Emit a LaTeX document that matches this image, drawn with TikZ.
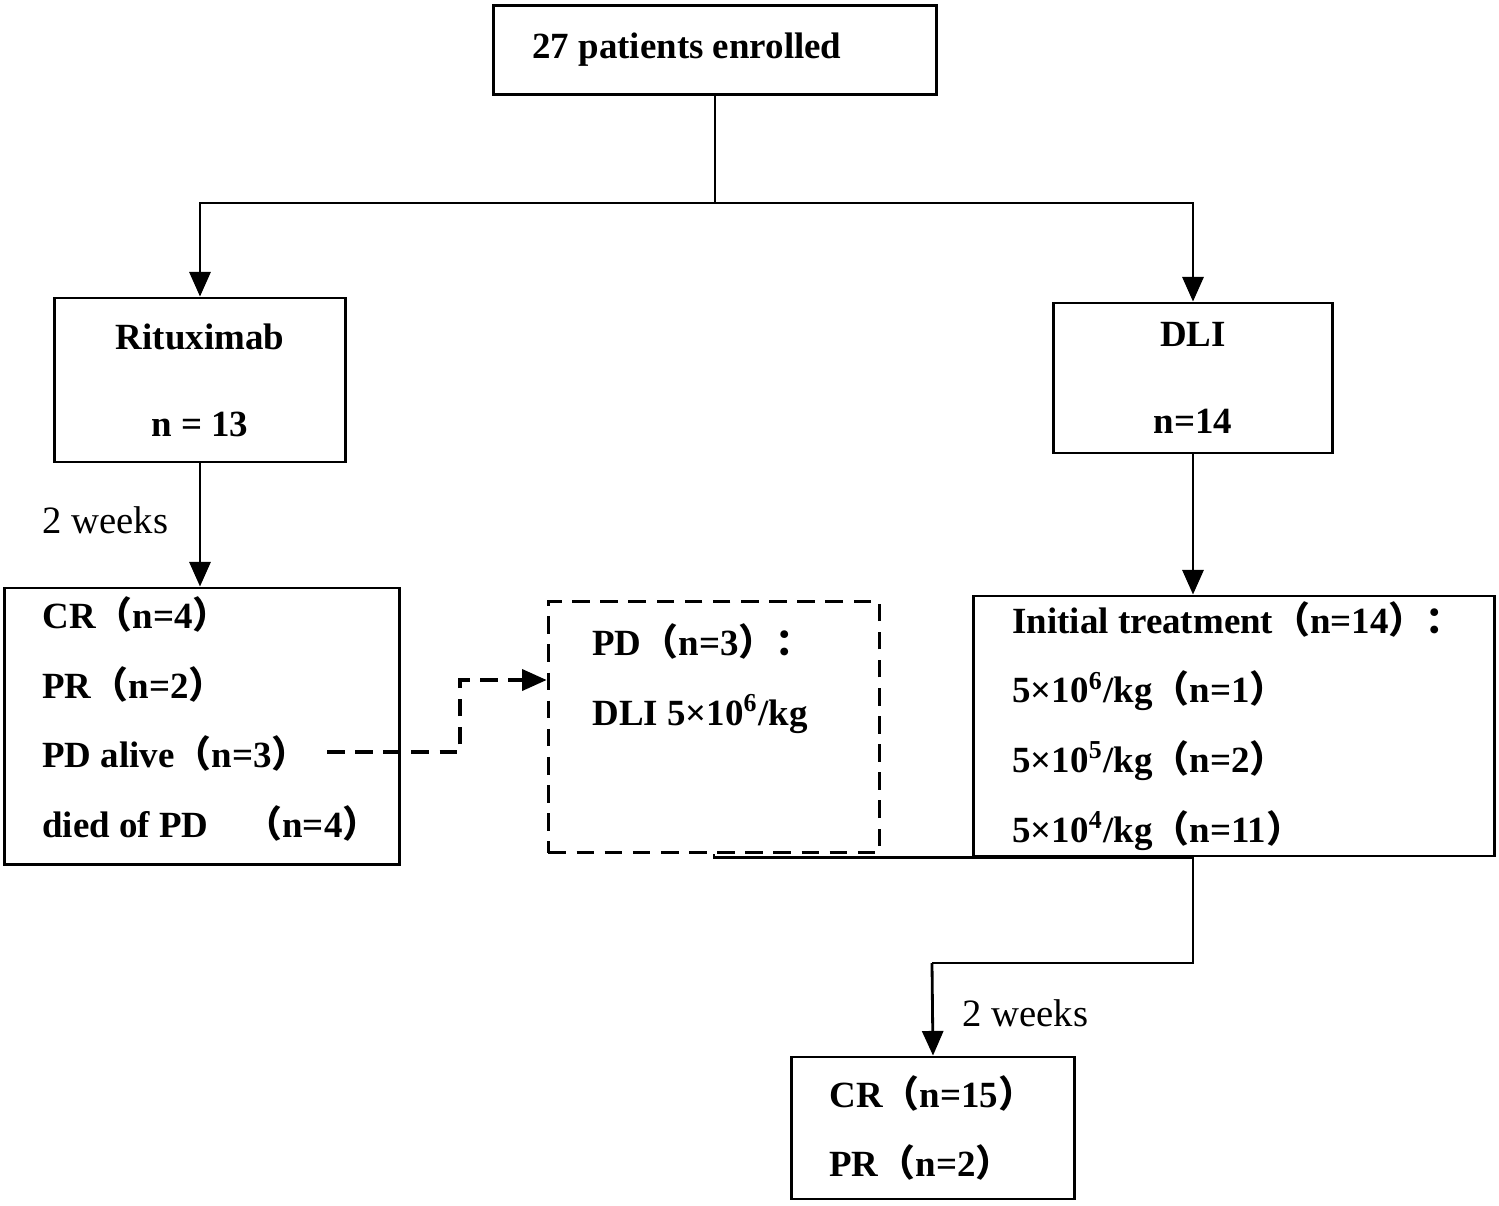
\documentclass[tikz,border=0pt]{standalone}
\usepackage{fontspec}
\setmainfont{Liberation Serif}
\newfontfamily\cjk{Noto Sans CJK SC}
\usetikzlibrary{arrows.meta,positioning,calc}
\newcommand{\lp}{{\cjk （}}
\newcommand{\rp}{{\cjk ）}}
\newcommand{\cl}{{\cjk ：}}
\begin{document}
\begin{tikzpicture}[x=0.01cm,y=-0.01cm,
  every node/.style={font=\bfseries\fontsize{10.5}{17}\selectfont},
  bx/.style={draw,line width=0.8pt,inner sep=0pt},
  tx/.style={align=left,anchor=west},
  e/.style={-{Triangle[length=7pt,width=6pt]},line width=0.8pt},
  l/.style={line width=0.8pt},
  dl/.style={dashed,line width=1pt,dash pattern=on 5pt off 3pt},
  wk/.style={font=\fontsize{11}{13}\selectfont}
  ]
  \useasboundingbox (0,0) rectangle (1499,1205);
  % boxes
  \node (top) [bx,minimum width=4.42cm,minimum height=0.89cm] at (715,50) {};
  \node [anchor=west] at (520,50) {27 patients enrolled};
  \node (rit) [bx,minimum width=2.91cm,minimum height=1.64cm,align=center] at (200,380) {Rituximab\\[0.27cm]n = 13};
  \node (dli) [bx,minimum width=2.79cm,minimum height=1.5cm,align=center] at (1193,378) {DLI\\[0.27cm]n=14};
  \node (res) [bx,minimum width=3.94cm,minimum height=2.76cm] at (202,726) {};
  \node [tx] at (30,719) {CR\lp n=4\rp\\[0.1cm] PR\lp n=2\rp\\[0.1cm] PD alive\lp n=3\rp\\[0.1cm] died of PD\quad\lp n=4\rp};
  \node (pd) [bx,dl,minimum width=3.31cm,minimum height=2.51cm] at (714,727) {};
  \node [tx] at (580,679) {PD\lp n=3\rp\cl\\[0.1cm] DLI 5×10$^{\mathbf 6}$/kg};
  \node (ini) [bx,minimum width=5.21cm,minimum height=2.6cm] at (1234,726) {};
  \node [tx] at (1000,726) {Initial treatment\lp n=14\rp\cl\\[0.1cm] 5×10$^{\mathbf 6}$/kg\lp n=1\rp\\[0.1cm] 5×10$^{\mathbf 5}$/kg\lp n=2\rp\\[0.1cm] 5×10$^{\mathbf 4}$/kg\lp n=11\rp};
  \node (fin) [bx,minimum width=2.83cm,minimum height=1.42cm] at (933,1128) {};
  \node [tx] at (817,1128) {CR\lp n=15\rp\\[0.1cm] PR\lp n=2\rp};
  % connectors
  \coordinate (sp) at (top.south |- 0,203);
  \draw [l] (top.south) -- (sp);
  \draw [e] (sp) -| (rit.north);
  \draw [e] (sp) -| (dli.north);
  \draw [e] (rit.south) -- (rit.south |- res.north);
  \draw [e] (dli.south) -- (dli.south |- ini.north);
  \coordinate (pa) at (327,752);
  \draw [dl,-{Triangle[length=7pt,width=6pt]}] (pa) -- (460,752) |- (pd.west |- 0,680);
  \coordinate (jn) at (932,963);
  \draw [l] (pd.south) |- (ini.south -| 1193,0) |- (jn) -- (1193,963) -- (1193,856);
  \draw [e] (jn) -- (fin.north);
  \node [wk,anchor=west] at (30,520) {2 weeks};
  \node [wk,anchor=west] at (950,1013) {2 weeks};
\end{tikzpicture}
\end{document}
